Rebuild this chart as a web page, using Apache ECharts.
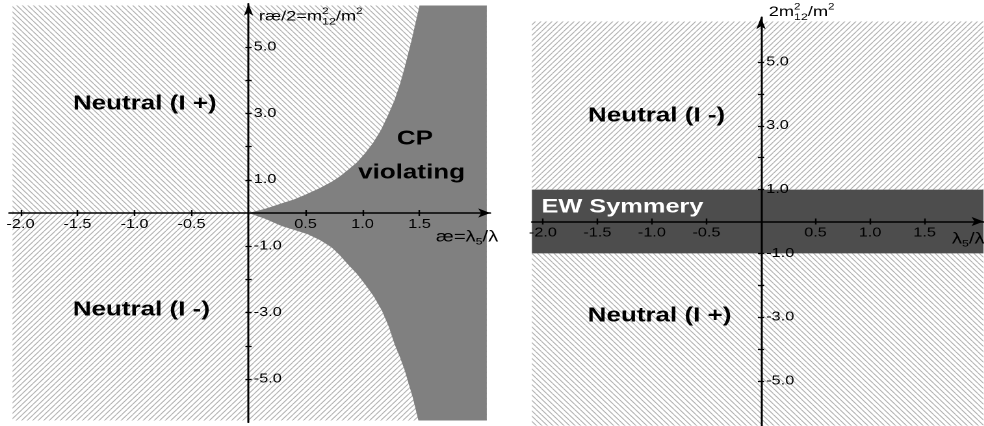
<!DOCTYPE html>
<html>
<head>
<meta charset="utf-8">
<script src="https://cdn.jsdelivr.net/npm/echarts@6/dist/echarts.min.js"></script>
<style>
html,body{margin:0;padding:0;overflow:hidden;background:#fff;}
#wrap{width:984px;height:426px;overflow:hidden;position:relative;}
#c{position:absolute;left:0;top:0;height:426px;transform-origin:0 0;}
</style>
</head>
<body>
<div id="wrap"><div id="c"></div></div>
<script>
// ---------- data ----------
const xTicks = [-2.0, -1.5, -1.0, -0.5, 0.5, 1.0, 1.5];
const yTicks = [-5, -4, -3, -2, -1, 1, 2, 3, 4, 5];
const yTickLabels = [-5, -3, -1, 1, 3, 5];

// left panel: CP-violating region boundary
const cpUpperX = [0, 0.15, 0.29, 0.40, 0.49, 0.62, 0.73, 0.80, 0.87, 0.95, 1.02, 1.09, 1.16, 1.22, 1.28, 1.33, 1.37, 1.43, 1.47, 1.50];
const cpUpperY = [0, 0.13, 0.29, 0.41, 0.54, 0.74, 0.94, 1.10, 1.29, 1.52, 1.79, 2.10, 2.49, 2.92, 3.39, 3.90, 4.39, 5.20, 5.80, 6.25];
const cpLowerX = [0, 0.15, 0.29, 0.41, 0.52, 0.63, 0.73, 0.80, 0.87, 0.95, 1.02, 1.10, 1.17, 1.23, 1.28, 1.33, 1.37, 1.44, 1.49];
const cpLowerY = [0, -0.18, -0.39, -0.52, -0.64, -0.82, -1.04, -1.27, -1.54, -1.83, -2.14, -2.52, -2.94, -3.42, -3.94, -4.36, -4.74, -5.55, -6.25];
const cpRightX = 2.09;

// hatched regions [x0, x1, y0, y1]
const hatchAUpper = [-2.07, 2.09, 0, 6.25];
const hatchALower = [-2.07, 2.09, -6.25, 0];
const hatchBUpper = [-2.1, 2.04, 1, 6.27];
const hatchBLower = [-2.1, 2.04, -6.4, -1];
const ewBand = [-2.1, 2.04, -1, 1];

// region labels [x, y]
const labelsAPos = [[-0.91, 3.28], [-0.94, -2.92], [1.46, 2.23], [1.43, 1.20]];
const labelsAText = ['Neutral (I +)', 'Neutral (I -)', 'CP', 'violating'];
const labelsBPos = [[-0.957, 3.31], [-0.93, -2.96]];
const labelsBText = ['Neutral (I -)', 'Neutral (I +)'];
const ewLabelPos = [[-1.27, 0.45]];
const ewLabelText = ['EW Symmery'];

// ---------- layout ----------
const S = 1.3; // horizontal stretch of the whole picture
const W0 = 984 / S;
const FONT = "'Liberation Sans', Arial, Helvetica, sans-serif";
const el = document.getElementById('c');
el.style.width = W0 + 'px';
el.style.transform = 'scaleX(' + S + ')';

// panel frames (real px -> unscaled)
const PA = { left: 9.1 / S, width: 481.1 / S, top: 3.8, height: 418.4, xmin: -2.1, xmax: 2.12, ymin: -6.3, ymax: 6.3 };
const PB = { left: 531.9 / S, width: 451.6 / S, top: 17.3, height: 408.4, xmin: -2.1, xmax: 2.04, ymin: -6.4, ymax: 6.4 };

function hatch(dir) {
  const R = 4;            // tile drawn at R x resolution, scaled back by the pattern
  const w = 4.25 * R, h = 5.25 * R;
  const c = document.createElement('canvas');
  c.width = w; c.height = h;
  const ctx = c.getContext('2d');
  ctx.fillStyle = '#ffffff';
  ctx.fillRect(0, 0, w, h);
  ctx.strokeStyle = '#b0b0b0';
  ctx.lineWidth = 0.85 * R;
  ctx.beginPath();
  for (let k = -1; k <= 1; k++) {
    if (dir === 'back') { ctx.moveTo(k * w, 0); ctx.lineTo(k * w + w, h); }
    else { ctx.moveTo(k * w, h); ctx.lineTo(k * w + w, 0); }
  }
  ctx.stroke();
  return { image: c, repeat: 'repeat', scaleX: 1 / R, scaleY: 1 / R };
}
const patBack = hatch('back');   // "\\\\"
const patFwd = hatch('fwd');     // "////"

function rectSeries(xi, yi, rect, fill, z) {
  return {
    type: 'custom', xAxisIndex: xi, yAxisIndex: yi, z: z, silent: true, animation: false,
    clip: false,
    data: [rect],
    renderItem: function (params, api) {
      const p0 = api.coord([api.value(0), api.value(3)]);
      const p1 = api.coord([api.value(1), api.value(2)]);
      return { type: 'rect', shape: { x: p0[0], y: p0[1], width: p1[0] - p0[0], height: p1[1] - p0[1] },
               style: { fill: fill } };
    }
  };
}

function labelSeries(xi, yi, pos, texts, color, size) {
  return {
    type: 'custom', xAxisIndex: xi, yAxisIndex: yi, z: 8, silent: true, animation: false, clip: false,
    data: pos,
    renderItem: function (params, api) {
      const p = api.coord([api.value(0), api.value(1)]);
      return { type: 'text', x: p[0], y: p[1],
               style: { text: texts[params.dataIndex], fill: color, font: 'bold ' + size + 'px ' + FONT,
                        align: 'center', verticalAlign: 'middle' } };
    }
  };
}

const cpSeries = {
  type: 'custom', xAxisIndex: 0, yAxisIndex: 0, z: 3, silent: true, animation: false, clip: false,
  data: [[0, 0]],
  renderItem: function (params, api) {
    const pts = [];
    for (let i = 0; i < cpUpperX.length; i++) pts.push(api.coord([cpUpperX[i], cpUpperY[i]]));
    pts.push(api.coord([cpRightX, cpUpperY[cpUpperY.length - 1]]));
    pts.push(api.coord([cpRightX, cpLowerY[cpLowerY.length - 1]]));
    for (let i = cpLowerX.length - 1; i >= 0; i--) pts.push(api.coord([cpLowerX[i], cpLowerY[i]]));
    return { type: 'polygon', shape: { points: pts }, style: { fill: '#808080' } };
  }
};

const tickStyle = { color: '#000', width: 1.2 };
const labelStyle = { color: '#000', fontSize: 12.5, fontFamily: FONT };
const fmt = v => Number(v).toFixed(1);
function richName(fs) {
  return {
    n: { fontSize: fs, fontFamily: FONT, color: '#000', lineHeight: 20 },
    sup: { fontSize: 9, fontFamily: FONT, color: '#000', verticalAlign: 'top', lineHeight: 12, width: 0 },
    sup2: { fontSize: 9, fontFamily: FONT, color: '#000', verticalAlign: 'top', lineHeight: 12 },
    sub: { fontSize: 9.5, fontFamily: FONT, color: '#000', verticalAlign: 'bottom', lineHeight: 10 }
  };
}
const hidden = { show: false };

function hiddenAxis(grid, min, max) {
  return { gridIndex: grid, type: 'value', min: min, max: max, show: false, splitLine: hidden };
}
function xMain(grid, P, name, nameGap, align, pad, fs) {
  return {
    gridIndex: grid, type: 'value', min: P.xmin, max: P.xmax, position: 'bottom', z: 6,
    splitLine: hidden,
    axisLine: { onZero: false, symbol: ['none', 'arrow'], symbolSize: [7, 12 / S],
                lineStyle: { color: '#000', width: 1.5 } },
    axisTick: { show: true, customValues: xTicks, length: 3, lineStyle: tickStyle },
    axisLabel: Object.assign({ customValues: xTicks, formatter: fmt, margin: 5 }, labelStyle),
    name: name, nameLocation: 'end', nameGap: nameGap,
    nameTextStyle: { color: '#000', fontSize: fs, fontFamily: FONT, align: align, verticalAlign: 'middle',
                     padding: pad, rich: richName(fs) }
  };
}
function xOver(grid, P) {
  return {
    gridIndex: grid, type: 'value', min: P.xmin, max: P.xmax, position: 'bottom', z: 6,
    splitLine: hidden,
    axisLine: { show: false, onZero: false },
    axisTick: { show: true, inside: true, customValues: xTicks, length: 3, lineStyle: tickStyle },
    axisLabel: hidden
  };
}
function yMain(grid, P, name, nameGap, pad) {
  return {
    gridIndex: grid, type: 'value', min: P.ymin, max: P.ymax, position: 'left', z: 6,
    splitLine: hidden,
    axisLine: { onZero: false, symbol: ['none', 'arrow'], symbolSize: [7 / S, 12],
                lineStyle: { color: '#000', width: 1.5 } },
    axisTick: { show: true, customValues: yTicks, length: 2.4, lineStyle: { color: '#000', width: 1.3 } },
    axisLabel: Object.assign({ inside: true, customValues: yTickLabels, formatter: fmt, margin: 4 }, labelStyle),
    name: name, nameLocation: 'end', nameGap: nameGap,
    nameTextStyle: { color: '#000', fontSize: 14, fontFamily: FONT, align: 'left', verticalAlign: 'middle',
                     padding: pad, rich: richName(14) }
  };
}
function yOver(grid, P) {
  return {
    gridIndex: grid, type: 'value', min: P.ymin, max: P.ymax, position: 'left', z: 6,
    splitLine: hidden,
    axisLine: { show: false, onZero: false },
    axisTick: { show: true, inside: true, customValues: yTicks, length: 2.4, lineStyle: { color: '#000', width: 1.3 } },
    axisLabel: hidden
  };
}

// grids: main plot, x-axis strip (bottom edge on y = 0), y-axis strip (left edge on x = 0)
function gridsFor(P) {
  const y0 = P.top + (P.ymax / (P.ymax - P.ymin)) * P.height;
  const x0 = P.left + (-P.xmin / (P.xmax - P.xmin)) * P.width;
  const base = { outerBoundsMode: 'none', containLabel: false };
  return [
    Object.assign({ left: P.left, width: P.width, top: P.top, height: P.height }, base),
    Object.assign({ left: P.left, width: P.width, top: P.top, height: y0 - P.top }, base),
    Object.assign({ left: x0, width: P.left + P.width - x0, top: P.top, height: P.height }, base)
  ];
}

const option = {
  animation: false,
  backgroundColor: '#ffffff',
  grid: gridsFor(PA).concat(gridsFor(PB)),
  xAxis: [
    hiddenAxis(0, PA.xmin, PA.xmax),
    xMain(1, PA, '{n|æ=λ}{sub|5}{n|/λ}', 4.8 / S, 'right', [48, 0, 0, 0], 15.5),
    xOver(1, PA),
    hiddenAxis(2, 0, PA.xmax),
    hiddenAxis(3, PB.xmin, PB.xmax),
    xMain(4, PB, '{n|λ}{sub|5}{n|/λ}', -31.5 / S, 'left', [35, 0, 0, 0], 15.5),
    xOver(4, PB),
    hiddenAxis(5, 0, PB.xmax)
  ],
  yAxis: [
    hiddenAxis(0, PA.ymin, PA.ymax),
    hiddenAxis(1, 0, PA.ymax),
    yMain(2, PA, '{n|ræ/2=m}{sup|2}{sub|12}{n|/m}{sup2|2}', -13, [0, 0, 0, 8]),
    yOver(2, PA),
    hiddenAxis(3, PB.ymin, PB.ymax),
    hiddenAxis(4, 0, PB.ymax),
    yMain(5, PB, '{n|2m}{sup|2}{sub|12}{n|/m}{sup2|2}', 5, [0, 0, 0, 6]),
    yOver(5, PB)
  ],
  series: [
    rectSeries(0, 0, hatchAUpper, patBack, 1),
    rectSeries(0, 0, hatchALower, patFwd, 1),
    cpSeries,
    labelSeries(0, 0, labelsAPos, labelsAText, '#000', 20),
    rectSeries(4, 4, hatchBUpper, patFwd, 1),
    rectSeries(4, 4, hatchBLower, patBack, 1),
    rectSeries(4, 4, ewBand, '#4d4d4d', 3),
    labelSeries(4, 4, labelsBPos, labelsBText, '#000', 20),
    labelSeries(4, 4, ewLabelPos, ewLabelText, '#ffffff', 19.5)
  ]
};

const chart = echarts.init(el, null, { renderer: 'canvas', devicePixelRatio: 2 });
chart.setOption(option);
</script>
</body>
</html>
